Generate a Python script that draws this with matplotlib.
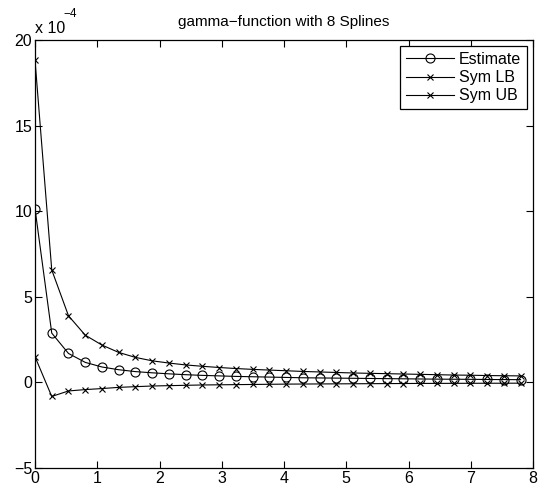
import matplotlib
matplotlib.use("Agg")
import matplotlib.pyplot as plt

plt.rcParams['font.family'] = ['Liberation Sans', 'DejaVu Sans']

x = [0.0, 0.269, 0.538, 0.807, 1.076, 1.345, 1.614, 1.883, 2.152, 2.421,
     2.690, 2.959, 3.228, 3.497, 3.766, 4.034, 4.303, 4.572, 4.841, 5.110,
     5.379, 5.648, 5.917, 6.186, 6.455, 6.724, 6.993, 7.262, 7.531, 7.800]

estimate = [10.15, 2.88, 1.69, 1.17, 0.90, 0.74, 0.63, 0.56, 0.50, 0.45,
            0.41, 0.38, 0.35, 0.33, 0.31, 0.29, 0.27, 0.26, 0.25, 0.24,
            0.23, 0.22, 0.21, 0.20, 0.19, 0.185, 0.18, 0.17, 0.165, 0.16]

sym_ub = [18.83, 6.57, 3.89, 2.76, 2.18, 1.75, 1.46, 1.26, 1.13, 1.02,
          0.94, 0.87, 0.81, 0.76, 0.72, 0.68, 0.64, 0.61, 0.58, 0.55,
          0.53, 0.51, 0.49, 0.47, 0.45, 0.43, 0.42, 0.40, 0.39, 0.38]

sym_lb = [1.50, -0.82, -0.50, -0.42, -0.36, -0.29, -0.25, -0.21, -0.19, -0.17,
          -0.15, -0.14, -0.13, -0.12, -0.11, -0.10, -0.095, -0.09, -0.085, -0.08,
          -0.075, -0.07, -0.065, -0.06, -0.058, -0.055, -0.052, -0.05, -0.048, -0.045]

xticks = [0, 1, 2, 3, 4, 5, 6, 7, 8]
yticks = [-5, 0, 5, 10, 15, 20]

fig = plt.figure(figsize=(5.54, 4.93), dpi=100)
ax = fig.add_axes([35/554, 1 - 468/493, (533-35)/554, (468-40)/493])

ax.plot(x, estimate, color='black', lw=0.8, marker='o', ms=6.5,
        mfc='none', mec='black', mew=0.8, label='Estimate')
ax.plot(x, sym_lb, color='black', lw=0.8, marker='x', ms=5,
        mew=0.8, label='Sym LB')
ax.plot(x, sym_ub, color='black', lw=0.8, marker='x', ms=5,
        mew=0.8, label='Sym UB')

ax.set_xlim(0, 8)
ax.set_ylim(-5, 20)
ax.set_xticks(xticks)
ax.set_yticks(yticks)
ax.set_xticklabels([str(t) for t in xticks])
ax.set_yticklabels([str(t).replace('-', '\u2212') for t in yticks])
ax.tick_params(direction='in', top=True, right=True, length=5, width=0.8,
               labelsize=11.5, pad=2)
for s in ax.spines.values():
    s.set_linewidth(0.9)

ax.set_title('gamma\u2212function with 8 Splines', fontsize=11, pad=10)
fig.text(35/554, 1 - 33/493, 'x 10', fontsize=11.5, ha='left', va='baseline')
fig.text(63/554, 1 - 17/493, '\u22124', fontsize=8.5, ha='left', va='baseline')

leg = ax.legend(loc='upper right', fancybox=False, framealpha=1,
                edgecolor='black', fontsize=11.5, handlelength=3.0,
                borderaxespad=0.4, labelspacing=0.2, borderpad=0.35,
                handletextpad=0.3)
leg.get_frame().set_linewidth(0.9)

fig.savefig('out.png', dpi=100)
